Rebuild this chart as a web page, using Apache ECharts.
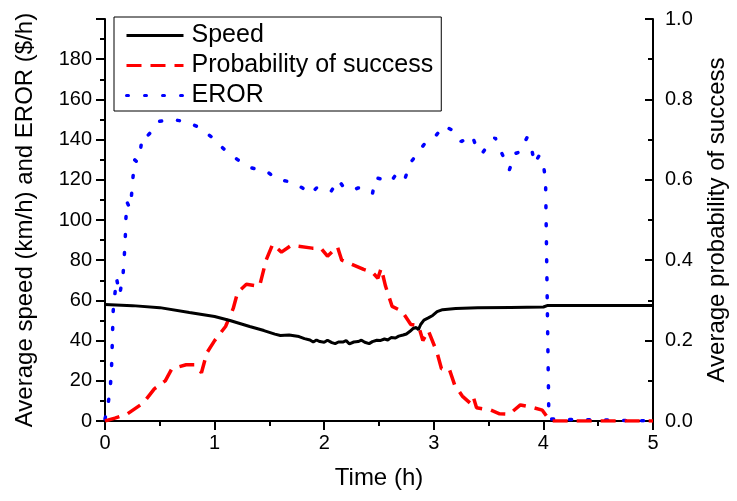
<!DOCTYPE html>
<html>
<head>
<meta charset="utf-8">
<title>Speed, probability of success and EROR</title>
<script src="https://cdn.jsdelivr.net/npm/echarts@6/dist/echarts.min.js"></script>
<style>
  html, body { margin: 0; padding: 0; background: #fff; }
  #main { width: 737px; height: 501px; }
</style>
</head>
<body>
<div id="main"></div>
<script>
  // values (time in h)
  var speedTime = [0, 0.25, 0.5, 0.77, 1.0, 1.14, 1.32, 1.45, 1.55, 1.6, 1.68, 1.77, 1.82, 1.87, 1.9, 1.93, 1.96, 2.0, 2.03, 2.07, 2.1, 2.13, 2.17, 2.2, 2.23, 2.27, 2.31, 2.34, 2.37, 2.41, 2.44, 2.48, 2.51, 2.55, 2.58, 2.61, 2.65, 2.68, 2.72, 2.75, 2.78, 2.81, 2.84, 2.86, 2.88, 2.91, 2.95, 2.99, 3.03, 3.08, 3.2, 3.4, 3.7, 4.0, 4.04, 4.5, 5.0];
  var speed = [57.9, 57.4, 56.4, 54, 52, 50, 47, 45, 43.2, 42.5, 42.8, 42, 41, 40.3, 39.3, 40.3, 39.5, 39.2, 40.2, 39, 38.5, 39.3, 39.3, 40, 38.4, 39.3, 39.5, 40.2, 39.2, 38.5, 39.5, 40.2, 40, 40.8, 40.3, 41.5, 41.3, 42.2, 42.8, 43.3, 44.5, 46, 46.5, 45.5, 48, 50.2, 51.3, 52.5, 54.4, 55.4, 56, 56.3, 56.5, 56.7, 57.5, 57.5, 57.5];

  var probTime = [0, 0.09, 0.2, 0.35, 0.45, 0.55, 0.61, 0.74, 0.82, 0.88, 0.93, 1.0, 1.1, 1.17, 1.21, 1.29, 1.41, 1.47, 1.53, 1.61, 1.7, 1.89, 1.97, 2.03, 2.12, 2.16, 2.25, 2.36, 2.44, 2.49, 2.52, 2.56, 2.62, 2.71, 2.79, 2.86, 2.9, 2.95, 3.03, 3.07, 3.14, 3.19, 3.26, 3.33, 3.36, 3.39, 3.52, 3.6, 3.69, 3.79, 3.91, 3.99, 4.06, 5.0];
  var prob = [0, 0.007, 0.017, 0.045, 0.08, 0.1, 0.13, 0.14, 0.14, 0.12, 0.17, 0.2, 0.235, 0.28, 0.32, 0.34, 0.335, 0.4, 0.44, 0.42, 0.437, 0.43, 0.43, 0.41, 0.434, 0.4, 0.39, 0.377, 0.37, 0.355, 0.38, 0.335, 0.285, 0.273, 0.24, 0.237, 0.2, 0.225, 0.17, 0.13, 0.13, 0.09, 0.062, 0.045, 0.06, 0.033, 0.027, 0.018, 0.017, 0.04, 0.033, 0.027, 0, 0];

  var erorTime = [0, 0.03, 0.05, 0.06, 0.065, 0.07, 0.075, 0.09, 0.105, 0.135, 0.165, 0.175, 0.185, 0.19, 0.2, 0.225, 0.24, 0.255, 0.27, 0.29, 0.32, 0.34, 0.39, 0.44, 0.49, 0.6, 0.74, 0.86, 0.98, 1.09, 1.21, 1.33, 1.48, 1.575, 1.7, 1.8, 1.88, 1.93, 2.01, 2.06, 2.13, 2.18, 2.27, 2.31, 2.36, 2.44, 2.47, 2.55, 2.61, 2.67, 2.74, 2.78, 2.85, 2.93, 3.02, 3.09, 3.19, 3.25, 3.35, 3.39, 3.44, 3.49, 3.56, 3.63, 3.69, 3.74, 3.79, 3.85, 3.89, 3.92, 3.96, 4.0, 4.02, 4.035, 4.05, 5.0];
  var eror = [1, 9, 18, 27, 36, 46, 55, 63, 71, 63, 73, 81, 91, 100, 109, 106, 111, 121, 130, 129, 133, 142, 142, 145, 149, 150, 149, 146, 141, 135, 130, 126, 124, 120, 119, 116, 113, 116, 115, 114, 120, 116, 115, 116, 115, 113, 121, 120, 119, 124, 121, 128, 133, 139, 142, 147, 144, 139, 142, 136, 133, 137, 141, 132, 125, 133, 134, 141, 136, 128, 132, 128, 119, 60, 1, 0];

  var leftTicks = [0, 20, 40, 60, 80, 100, 120, 140, 160, 180];

  function pairs(xs, ys) {
    return xs.map(function (x, i) { return [x, ys[i]]; });
  }

  var font = '"Liberation Sans", Arial, sans-serif';
  var chart = echarts.init(document.getElementById('main'));

  var option = {
    animation: false,
    backgroundColor: '#fff',
    textStyle: { fontFamily: font, color: '#000' },
    grid: { left: 105, right: 81, top: 19, bottom: 80 },
    legend: {
      orient: 'vertical',
      left: 114,
      top: 17,
      padding: [6, 8, 3, 11],
      itemGap: 5,
      itemWidth: 57,
      itemHeight: 25,
      borderColor: '#000',
      borderWidth: 1,
      borderRadius: 0,
      itemStyle: { opacity: 0 },
      lineStyle: { width: 3 },
      textStyle: { fontFamily: font, fontSize: 25, color: '#000', padding: [0, 0, 0, 3] },
      data: ['Speed', 'Probability of success', 'EROR']
    },
    xAxis: {
      type: 'value',
      min: 0, max: 5, interval: 1,
      name: 'Time (h)',
      nameLocation: 'middle',
      nameGap: 45,
      nameTextStyle: { fontFamily: font, fontSize: 24, color: '#000' },
      axisLine: { lineStyle: { color: '#000', width: 2 } },
      axisTick: { length: 9, lineStyle: { color: '#000', width: 2 } },
      minorTick: { show: true, splitNumber: 2, length: 5, lineStyle: { color: '#000', width: 2 } },
      axisLabel: { fontFamily: font, fontSize: 20, color: '#000', margin: 12 },
      splitLine: { show: false }
    },
    yAxis: [
      {
        type: 'value',
        min: 0, max: 200, interval: 20,
        name: 'Average speed (km/h) and EROR ($/h)',
        nameLocation: 'middle',
        nameGap: 68,
        nameTextStyle: { fontFamily: font, fontSize: 24, color: '#000' },
        axisLine: { show: true, lineStyle: { color: '#000', width: 2 } },
        axisTick: { show: true, length: 9, lineStyle: { color: '#000', width: 2 } },
        minorTick: { show: true, splitNumber: 2, length: 5, lineStyle: { color: '#000', width: 2 } },
        axisLabel: {
          fontFamily: font, fontSize: 20, color: '#000', margin: 13,
          formatter: function (v) { return leftTicks.indexOf(v) >= 0 ? String(v) : ''; }
        },
        splitLine: { show: false }
      },
      {
        type: 'value',
        position: 'right',
        min: 0, max: 1, interval: 0.2,
        name: 'Average probability of success',
        nameLocation: 'middle',
        nameGap: 52,
        nameTextStyle: { fontFamily: font, fontSize: 24, color: '#000' },
        axisLine: { show: true, lineStyle: { color: '#000', width: 2 } },
        axisTick: { show: true, inside: true, length: 8, lineStyle: { color: '#000', width: 2 } },
        minorTick: { show: true, splitNumber: 2, length: 5, lineStyle: { color: '#000', width: 2 } },
        axisLabel: {
          fontFamily: font, fontSize: 20, color: '#000', margin: 12,
          formatter: function (v) { return v.toFixed(1); }
        },
        splitLine: { show: false }
      }
    ],
    series: [
      {
        name: 'EROR',
        type: 'line',
        yAxisIndex: 0,
        symbol: 'none',
        z: 2,
        color: '#0000ff',
        lineStyle: { color: '#0000ff', width: 3.5, type: [2, 16], cap: 'round' },
        data: pairs(erorTime, eror)
      },
      {
        name: 'Probability of success',
        type: 'line',
        yAxisIndex: 1,
        symbol: 'none',
        z: 3,
        color: '#ff0000',
        lineStyle: { color: '#ff0000', width: 3.5, type: [15, 9] },
        data: pairs(probTime, prob)
      },
      {
        name: 'Speed',
        type: 'line',
        yAxisIndex: 0,
        symbol: 'none',
        z: 4,
        color: '#000',
        lineStyle: { color: '#000', width: 3 },
        data: pairs(speedTime, speed)
      }
    ]
  };

  chart.setOption(option);
</script>
</body>
</html>
